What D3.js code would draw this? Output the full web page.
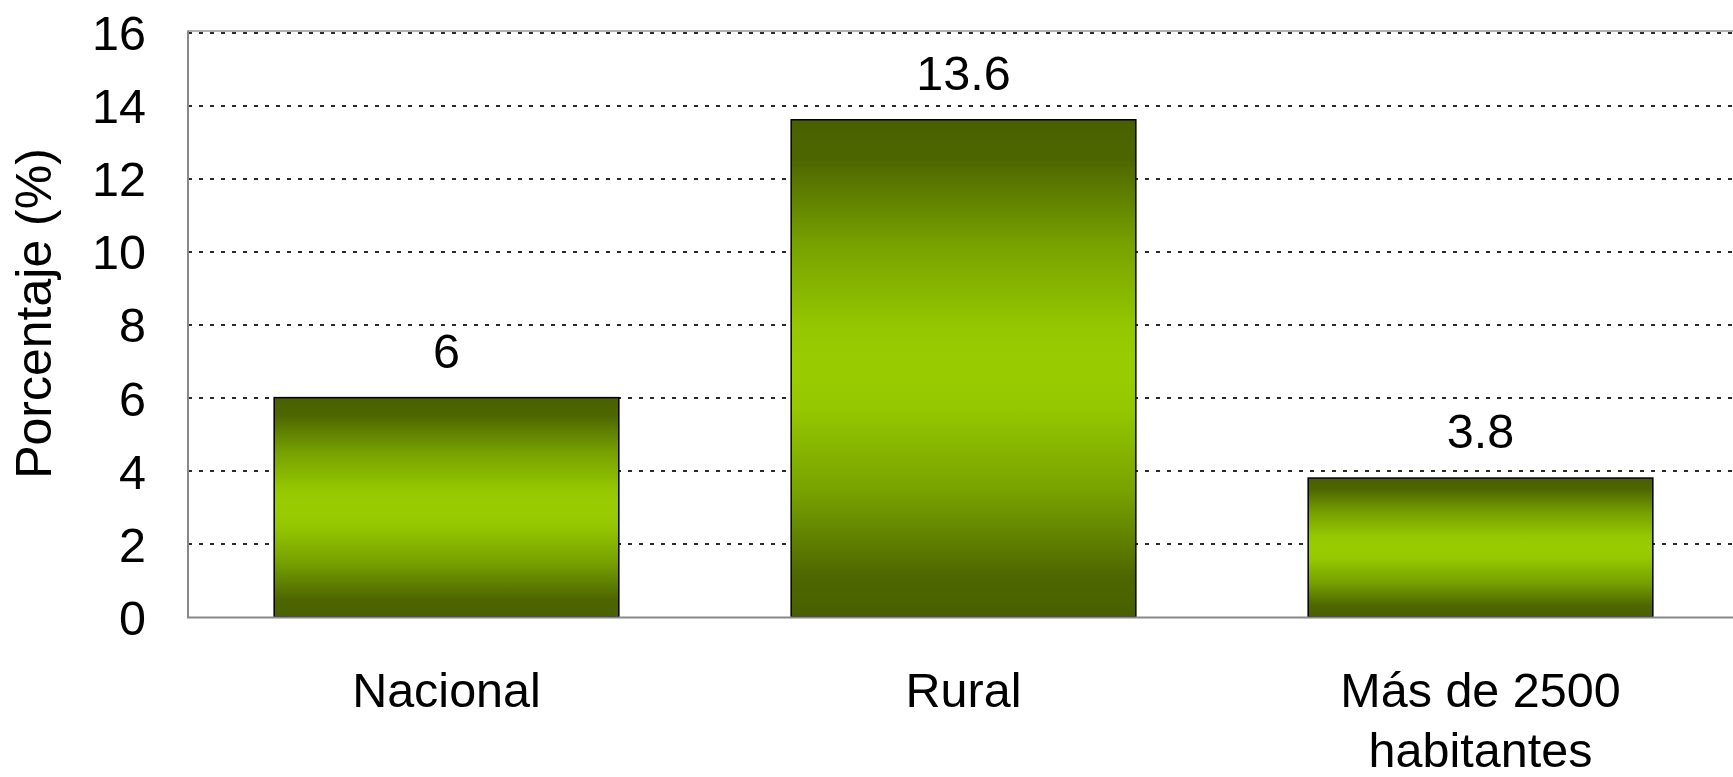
<!DOCTYPE html>
<html>
<head>
<meta charset="utf-8">
<script src="https://cdn.jsdelivr.net/npm/d3@7/dist/d3.min.js"></script>
<style>
html,body{margin:0;padding:0;background:#fff;}
svg{display:block;}
text{font-family:"Liberation Sans",Arial,sans-serif;fill:#000;}
</style>
</head>
<body>
<svg id="chart" width="1733" height="777"></svg>
<script>
const categories = [["Nacional"], ["Rural"], ["Más de 2500", "habitantes"]];
const values = [6, 13.6, 3.8];
const valueLabels = ["6", "13.6", "3.8"];
const yTicks = [0, 2, 4, 6, 8, 10, 12, 14, 16];
const yTitle = "Porcentaje (%)";

(function () {
const svg = d3.select("#chart");
const pL = 188, pT = 32, pB = 617, pR = 1739;
const fs = 48.5;

const x = d3.scaleBand().domain(d3.range(values.length)).range([pL, pR])
  .paddingInner(1/3).paddingOuter(1/6);
const y = d3.scaleLinear().domain([0, 16]).range([pB, pT]);

// gradient
const defs = svg.append("defs");
const g = defs.append("linearGradient").attr("id", "barGrad")
  .attr("x1", 0).attr("y1", 0).attr("x2", 0).attr("y2", 1);
[[0, "#4a6000"], [0.08, "#4e6600"], [0.25, "#77a100"], [0.42, "#95c800"], [0.5, "#99cc00"],
 [0.58, "#95c800"], [0.75, "#77a100"], [0.92, "#4e6600"], [1, "#4a6000"]]
  .forEach(([o, c]) => g.append("stop").attr("offset", o).attr("stop-color", c));

// gridlines
const yAxisGrid = d3.axisLeft(y).tickValues(yTicks.filter(v => v > 0))
  .tickSize(-(1733 - pL)).tickFormat("");
const gg = svg.append("g").attr("transform", `translate(${pL},0)`).call(yAxisGrid);
gg.select(".domain").remove();
gg.selectAll("line").attr("stroke", "#2a2a2a").attr("stroke-width", 2)
  .attr("stroke-dasharray", "4,7").attr("shape-rendering", "crispEdges");

// plot border (left, top)
svg.append("line").attr("x1", pL).attr("x2", 1733).attr("y1", pT - 1).attr("y2", pT - 1)
  .attr("stroke", "#999").attr("stroke-width", 1.5);
svg.append("line").attr("x1", pL).attr("x2", pL).attr("y1", pT - 1.5).attr("y2", pB + 1)
  .attr("stroke", "#888").attr("stroke-width", 2);

// bars
svg.append("g").selectAll("rect").data(values).join("rect")
  .attr("x", (d, i) => x(i))
  .attr("y", d => y(d))
  .attr("width", x.bandwidth())
  .attr("height", d => y(0) - y(d))
  .attr("fill", "url(#barGrad)")
  .attr("stroke", "#000").attr("stroke-width", 1.5);

// bottom axis line
svg.append("line").attr("x1", pL - 1).attr("x2", 1733).attr("y1", pB + 0.5).attr("y2", pB + 0.5)
  .attr("stroke", "#888").attr("stroke-width", 2);

// y tick labels
const yAxis = d3.axisLeft(y).tickValues(yTicks).tickSize(0).tickPadding(42);
const ya = svg.append("g").attr("transform", `translate(${pL},0)`).call(yAxis);
ya.select(".domain").remove();
ya.selectAll("text").attr("font-size", fs).attr("font-family", "Liberation Sans, Arial, sans-serif")
  .attr("fill", "#000").attr("dy", "0.36em");

// value labels
svg.append("g").selectAll("text").data(values).join("text")
  .attr("x", (d, i) => x(i) + x.bandwidth() / 2)
  .attr("y", d => y(d) - 30)
  .attr("text-anchor", "middle").attr("font-size", fs)
  .text((d, i) => valueLabels[i]);

// category labels
const cl = svg.append("g").selectAll("text").data(categories).join("text")
  .attr("x", (d, i) => x(i) + x.bandwidth() / 2)
  .attr("y", 707)
  .attr("text-anchor", "middle").attr("font-size", fs);
cl.selectAll("tspan").data(d => d).join("tspan")
  .attr("x", function() { return d3.select(this.parentNode).attr("x"); })
  .attr("dy", (d, j) => j === 0 ? 0 : 60)
  .text(d => d);

// y title
svg.append("text")
  .attr("transform", `translate(51,${(pT + pB) / 2 - 11}) rotate(-90)`)
  .attr("text-anchor", "middle").attr("font-size", 50)
  .text(yTitle);
})();
</script>
</body>
</html>
